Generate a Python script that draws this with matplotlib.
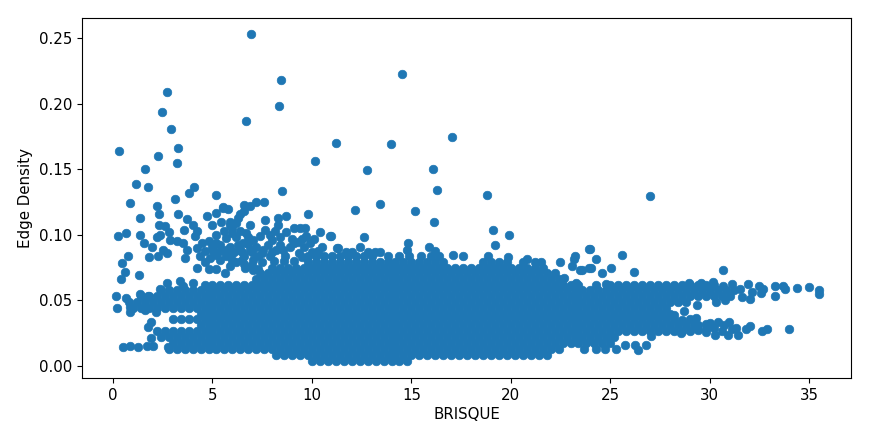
#!/usr/bin/env python3
"""BRISQUE vs edge density scatter, points read off the picture."""
import matplotlib

matplotlib.use("Agg")
import matplotlib.pyplot as plt

C_POINT = "#1f77b4"

# isolated points, read one by one
outlier_x = [6.93, 8.42, 14.55, 2.7, 2.48, 8.32, 6.7, 2.92, 3.25, 0.32, 3.22, 2.26, 1.63, 11.23, 10.13,
             13.96, 12.78, 16.07, 17.06, 16.27, 8.51, 1.16, 1.74, 4.07, 3.82, 3.12, 5.16, 0.84, 2.21,
             5.52, 6.57, 13.42, 18.82, 27.0, 12.14, 15.2, 16.14, 19.08, 19.9, 19.2, 30.66]
outlier_y = [.2527, .2178, .2225, .209, .1936, .198, .1865, .1805, .1662, .1635, .155, .1602, .1505, .17, .156,
             .1695, .1492, .1505, .1746, .1342, .1335, .1388, .1363, .1363, .1322, .1276, .1301, .1245, .1223,
             .1207, .1225, .1238, .1306, .1295, .1186, .1181, .1097, .1036, .0998, .0919, .0733]

# loose cloud above the main body, left side
cloud_x = [1.38, 2.29, 3.28, 3.7, .25, .64, 1.34, 1.55, 1.98, .77, .44, .6, .39, 1.31, 1.82, 2.27, 2.52, 2.72,
           2.29, 2.6, 2.35, 2.2, 2.82, 2.86, 3.56, 4.03, 4.2, 4.12, 3.2, 3.53, 3.7, 3.6, 4.2, 4.8, 5.2, 5.63,
           4.2, 4.45, 4.8, 5.2, 4.62, 5.2, 5.7, 6.2, 6.64, 7.06, 4.7, 5.2, 5.55, 5.8, 5.41, 5.0, 5.2,
           5.88, 6.2, 5.97, 5.7, 6.9, 7.2, 7.6, 6.4, 6.9, 6.7, 6.55, 7.06, 6.4, 6.9,
           7.65, 8.27, 8.7, 9.78, 8.3, 7.65, 8.15, 8.7, 9.08, 9.4, 9.66, 9.7, 10.39, 10.08, 10.92, 11.26, 10.29,
           8.0, 8.4, 9.08, 9.58, 7.56, 8.57, 9.33, 7.3, 7.9, 8.65, 9.75, 7.06, 4.37, 5.04, 5.7, 6.1, 6.6,
           4.6, 5.0, 5.4, 5.9, 6.3, 6.8, 7.2, 7.8, 8.2, 8.9, 9.3, 9.9, 10.5,
           4.9, 5.4, 6.0, 6.5, 7.5, 8.1, 8.6, 9.1, 9.5, 10.0,
           6.2, 6.0, 6.4, 6.8, 7.4, 7.9, 8.4, 9.0, 9.5, 5.6, 5.9, 6.3, 6.6,
           7.0, 6.6, 7.3, 5.9, 7.0, 7.5, 8.0, 5.4, 6.0, 6.5]
cloud_y = [.113, .1155, .116, .112, .099, .101, .0995, .094, .0906, .0835, .0784, .0718, .0664, .0697, .083, .0842, .0886, .086,
           .1076, .1064, .1, .098, .1018, .096, .1033, .1076, .1025, .0987, .095, .0936, .0886, .082, .0746, .0738, .0738, .0707,
           .09, .0936, .095, .0936, .0796, .0847, .0835, .0796, .0746, .0733, .114, .1165, .121, .1196, .11, .1076, .1,
           .1076, .109, .101, .0975, .1216, .1247, .1247, .116, .1076, .1013, .0936, .096, .0885, .0885,
           .111, .1127, .114, .1158, .1076, .1038, .1025, .1018, .105, .105, .105, .0987, .1018, .0967, .0987, .0903, .088,
           .0962, .0924, .0936, .091, .0885, .0885, .086, .0835, .0835, .0835, .082, .081, .0835, .0873, .0885, .087, .084,
           .088, .0905, .0925, .091, .092, .093, .091, .092, .0885, .0905, .0945, .0935, .091,
           .082, .081, .081, .081, .079, .08, .08, .08, .083, .087,
           .098, .105, .103, .098, .099, .1, .098, .097, .097, .103, .11, .113, .118,
           .077, .078, .074, .076, .087, .086, .087, .0875, .086, .087]

# top edge of the body and the points over it, middle
top_x = [10.97, 12.6, 11.33, 12.43, 14.83, 14.8, 15.9, 16.2, 17.1, 17.6, 18.83, 19.87, 20.8, 21.2, 21.5, 22.48,
         23.24, 23.15, 23.07, 23.49, 23.94, 23.94, 22.65, 23.3, 11.7, 12.0, 12.8, 13.15, 13.4,
         9.8, 10.2, 10.6, 11.0, 11.4, 11.8, 12.2, 12.6, 13.0, 13.8, 14.4, 14.9, 15.5, 16.0, 16.4,
         24.0, 25.57, 24.3, 23.6, 24.03, 24.58, 25.05, 26.2, 24.3, 24.8]
top_y = [.0987, .098, .09, .0906, .0941, .0885, .0906, .088, .0847, .0835, .084, .083, .0814, .0796, .0789, .0789,
         .084, .0814, .0763, .0728, .0893, .075, .067, .063, .0865, .0865, .0865, .0865, .0865,
         .084, .084, .084, .084, .084, .084, .084, .084, .084, .084, .084, .084, .084, .084, .084,
         .0893, .0847, .0814, .0733, .0748, .0712, .0748, .0717, .0618, .0626]

# left tail of the two bands
left_x = [.17, .22, .67, .84, .87, 1.34, 1.6, 1.76, 2.15, 2.35, 2.72, 3.36, 3.53, 4.03, 1.93, 1.76, 1.93,
          .5, .85, 1.25, 1.7, 2.0, 2.77]
left_y = [.053, .0445, .052, .045, .0415, .055, .043, .053, .041, .059, .0636, .0644, .061, .063, .0338, .0295, .0211,
          .0147, .0155, .0147, .0155, .0155, .0147]

# right tail of the two bands
right_x = [30.66, 31.1, 31.5, 31.9, 32.1, 32.5, 32.7, 32.6, 33.27, 33.3, 33.7, 33.8, 34.4, 35.0, 35.5, 35.5,
           32.0, 31.6, 30.75, 30.3, 29.37, 28.68, 28.95, 29.57, 30.16,
           34.0, 32.9, 32.65, 32.0, 31.8, 31.4, 31.3, 30.97, 30.9, 30.4, 30.24, 29.8, 29.8, 29.3, 29.4, 28.56, 28.2,
           27.05, 26.8, 26.4, 26.25, 25.75, 28.6, 29.0, 29.4, 29.8, 30.2, 30.6, 30.0, 30.7, 31.1]
right_y = [.061, .0623, .0585, .0626, .0567, .0606, .0585, .0555, .061, .0534, .0606, .0585, .0598, .06, .058, .0547,
           .0514, .0524, .0504, .0491, .0466, .0422, .063, .063, .0638,
           .0285, .028, .0265, .0303, .0282, .0237, .0288, .0333, .0237, .0333, .0237, .0257, .032, .0364, .0275, .025, .039,
           .023, .016, .0122, .016, .016, .035, .036, .031, .028, .029, .027, .033, .031, .028]

# the solid body, read row by row
row_levels = [.004, .0085, .013, .0175, .022, .0265, .031, .0355, .04, .0445, .049, .0535, .058, .0615, .066, .0705, .075, .0795]
row_004 = [10.0, 10.4, 10.8, 11.2, 11.6, 12.0, 12.4, 12.8, 13.2, 13.6, 14.0, 14.4, 14.8]
row_0085 = [8.2, 8.6, 9.0, 9.4, 9.8, 10.2, 10.6, 11.0, 11.4, 11.8, 12.2, 12.6, 13.0, 13.4, 13.8, 14.2, 14.6, 15.0, 15.4,
            15.8, 16.2, 16.6, 17.0, 17.4, 17.8, 18.2, 18.6, 19.0, 19.4, 19.8, 20.2, 20.6, 21.0, 21.4, 21.8]
row_013 = [2.8, 3.2, 3.6, 4.0, 4.4, 4.8, 5.2, 5.6, 6.0, 6.4, 6.8, 7.2, 7.6, 8.0, 8.4, 8.8, 9.2, 9.6, 10.0, 10.4, 10.8,
           11.2, 11.6, 12.0, 12.4, 12.8, 13.2, 13.6, 14.0, 14.4, 14.8, 15.2, 15.6, 16.0, 16.4, 16.8, 17.2, 17.6, 18.0,
           18.4, 18.8, 19.2, 19.6, 20.0, 20.4, 20.8, 21.2, 21.6, 22.0, 22.4, 23.7, 24.3, 24.75, 25.3]
row_0175 = [3.0, 3.4, 3.8, 4.2, 4.6, 5.0, 5.4, 5.8, 6.2, 6.6, 7.0, 7.4, 7.8, 8.2, 8.6, 9.0, 9.4, 9.8, 10.2, 10.6, 11.0,
            11.4, 11.8, 12.2, 12.6, 13.0, 13.4, 13.8, 14.2, 14.6, 15.0, 15.4, 15.8, 16.2, 16.6, 17.0, 17.4, 17.8, 18.2,
            18.6, 19.0, 19.4, 19.8, 20.2, 20.6, 21.0, 21.4, 21.8, 22.2, 22.6, 23.0, 23.4, 23.8, 24.2, 24.6, 25.0]
row_022 = [2.4, 2.8, 3.2, 3.6, 4.0, 4.4, 4.8, 5.2, 5.6, 6.0, 6.4, 6.8, 7.2, 7.6, 8.0, 8.4, 8.8, 9.2, 9.6, 10.0, 10.4,
           10.8, 11.2, 11.6, 12.0, 12.4, 12.8, 13.2, 13.6, 14.0, 14.4, 14.8, 15.2, 15.6, 16.0, 16.4, 16.8, 17.2, 17.6,
           18.0, 18.4, 18.8, 19.2, 19.6, 20.0, 20.4, 20.8, 21.2, 21.6, 22.0, 22.4, 22.8, 23.2, 23.6, 24.0, 24.4, 24.8, 25.2]
row_0265 = [2.2, 2.6, 3.0, 3.4, 3.8, 4.2, 4.6, 5.0, 5.4, 5.8, 6.2, 6.6, 7.0, 7.4, 7.8, 8.2, 8.6, 9.0, 9.4, 9.8, 10.2,
            10.6, 11.0, 11.4, 11.8, 12.2, 12.6, 13.0, 13.4, 13.8, 14.2, 14.6, 15.0, 15.4, 15.8, 16.2, 16.6, 17.0, 17.4,
            17.8, 18.2, 18.6, 19.0, 19.4, 19.8, 20.2, 20.6, 21.0, 21.4, 21.8, 22.2, 22.6, 23.0, 23.4, 23.8, 24.2, 24.6,
            25.0, 25.4, 25.8, 26.2, 26.6, 27.0, 27.4, 27.8, 28.2, 28.6, 29.0]
row_031 = [4.4, 4.8, 5.2, 5.6, 6.0, 6.4, 6.8, 7.2, 7.6, 8.0, 8.4, 8.8, 9.2, 9.6, 10.0, 10.4, 10.8, 11.2, 11.6, 12.0, 12.4,
           12.8, 13.2, 13.6, 14.0, 14.4, 14.8, 15.2, 15.6, 16.0, 16.4, 16.8, 17.2, 17.6, 18.0, 18.4, 18.8, 19.2, 19.6,
           20.0, 20.4, 20.8, 21.2, 21.6, 22.0, 22.4, 22.8, 23.2, 23.6, 24.0, 24.4, 24.8, 25.2, 25.6, 26.0, 26.4, 26.8,
           27.2, 27.6, 28.0, 28.4, 28.8, 29.2]
row_0355 = [3.0, 3.4, 3.8, 4.2, 4.6, 5.0, 5.4, 5.8, 6.2, 6.6, 7.0, 7.4, 7.8, 8.2, 8.6, 9.0, 9.4, 9.8, 10.2, 10.6, 11.0,
            11.4, 11.8, 12.2, 12.6, 13.0, 13.4, 13.8, 14.2, 14.6, 15.0, 15.4, 15.8, 16.2, 16.6, 17.0, 17.4, 17.8, 18.2,
            18.6, 19.0, 19.4, 19.8, 20.2, 20.6, 21.0, 21.4, 21.8, 22.2, 22.6, 23.0, 23.4, 23.8, 24.2, 24.6, 25.0, 25.4,
            25.8, 26.2, 26.6, 27.0, 27.4, 27.8, 28.2]
row_04 = [4.4, 4.8, 5.2, 5.6, 6.0, 6.4, 6.8, 7.2, 7.6, 8.0, 8.4, 8.8, 9.2, 9.6, 10.0, 10.4, 10.8, 11.2, 11.6, 12.0, 12.4,
          12.8, 13.2, 13.6, 14.0, 14.4, 14.8, 15.2, 15.6, 16.0, 16.4, 16.8, 17.2, 17.6, 18.0, 18.4, 18.8, 19.2, 19.6,
          20.0, 20.4, 20.8, 21.2, 21.6, 22.0, 22.4, 22.8, 23.2, 23.6, 24.0, 24.4, 24.8, 25.2, 25.6, 26.0, 26.4, 26.8, 27.2, 27.6, 28.0]
row_0445 = [1.0, 1.4, 1.8, 2.2, 2.6, 3.0, 3.4, 3.8, 4.2, 4.6, 5.0, 5.4, 5.8, 6.2, 6.6, 7.0, 7.4, 7.8, 8.2, 8.6, 9.0, 9.4,
            9.8, 10.2, 10.6, 11.0, 11.4, 11.8, 12.2, 12.6, 13.0, 13.4, 13.8, 14.2, 14.6, 15.0, 15.4, 15.8, 16.2, 16.6,
            17.0, 17.4, 17.8, 18.2, 18.6, 19.0, 19.4, 19.8, 20.2, 20.6, 21.0, 21.4, 21.8, 22.2, 22.6, 23.0, 23.4, 23.8,
            24.2, 24.6, 25.0, 25.4, 25.8, 26.2, 26.6, 27.0, 27.4, 27.8]
row_049 = [.8, 1.2, 1.6, 2.0, 2.4, 2.8, 3.2, 3.6, 4.0, 4.4, 4.8, 5.2, 5.6, 6.0, 6.4, 6.8, 7.2, 7.6, 8.0, 8.4, 8.8, 9.2, 9.6,
           10.0, 10.4, 10.8, 11.2, 11.6, 12.0, 12.4, 12.8, 13.2, 13.6, 14.0, 14.4, 14.8, 15.2, 15.6, 16.0, 16.4, 16.8,
           17.2, 17.6, 18.0, 18.4, 18.8, 19.2, 19.6, 20.0, 20.4, 20.8, 21.2, 21.6, 22.0, 22.4, 22.8, 23.2, 23.6, 24.0,
           24.4, 24.8, 25.2, 25.6, 26.0, 26.4, 26.8, 27.2, 27.6, 28.0, 28.4, 28.8]
row_0535 = [1.4, 1.8, 2.2, 2.6, 3.0, 3.4, 3.8, 4.2, 4.6, 5.0, 5.4, 5.8, 6.2, 6.6, 7.0, 7.4, 7.8, 8.2, 8.6, 9.0, 9.4, 9.8,
            10.2, 10.6, 11.0, 11.4, 11.8, 12.2, 12.6, 13.0, 13.4, 13.8, 14.2, 14.6, 15.0, 15.4, 15.8, 16.2, 16.6, 17.0,
            17.4, 17.8, 18.2, 18.6, 19.0, 19.4, 19.8, 20.2, 20.6, 21.0, 21.4, 21.8, 22.2, 22.6, 23.0, 23.4, 23.8, 24.2,
            24.6, 25.0, 25.4, 25.8, 26.2, 26.6, 27.0, 27.4, 27.8, 28.2, 28.6, 29.0, 29.4, 29.8, 30.2, 30.6, 31.0]
row_058 = [2.4, 2.8, 3.2, 3.6, 4.0, 4.4, 4.8, 5.2, 5.6, 6.0, 6.4, 6.8, 7.2, 7.6, 8.0, 8.4, 8.8, 9.2, 9.6, 10.0, 10.4, 10.8,
           11.2, 11.6, 12.0, 12.4, 12.8, 13.2, 13.6, 14.0, 14.4, 14.8, 15.2, 15.6, 16.0, 16.4, 16.8, 17.2, 17.6, 18.0,
           18.4, 18.8, 19.2, 19.6, 20.0, 20.4, 20.8, 21.2, 21.6, 22.0, 22.4, 22.8, 23.2, 23.6, 24.0, 24.4, 24.8, 25.2,
           25.6, 26.0, 26.4, 26.8, 27.2, 27.6, 28.0, 28.4, 28.8, 29.2, 29.6, 30.0, 30.4, 30.8, 31.2]
row_0615 = [4.6, 5.0, 5.4, 5.8, 6.2, 6.6, 7.0, 7.4, 7.8, 8.2, 8.6, 9.0, 9.4, 9.8, 10.2, 10.6, 11.0, 11.4, 11.8, 12.2, 12.6,
            13.0, 13.4, 13.8, 14.2, 14.6, 15.0, 15.4, 15.8, 16.2, 16.6, 17.0, 17.4, 17.8, 18.2, 18.6, 19.0, 19.4, 19.8,
            20.2, 20.6, 21.0, 21.4, 21.8, 22.2, 22.6, 23.0, 23.4, 25.0, 25.4, 25.8, 26.2, 26.6, 27.0, 27.4, 27.8, 28.2,
            28.6, 29.0, 29.4, 29.8, 30.2]
row_066 = [7.2, 7.6, 8.0, 8.4, 8.8, 9.2, 9.6, 10.0, 10.4, 10.8, 11.2, 11.6, 12.0, 12.4, 12.8, 13.2, 13.6, 14.0, 14.4, 14.8,
           15.2, 15.6, 16.0, 16.4, 16.8, 17.2, 17.6, 18.0, 18.4, 18.8, 19.2, 19.6, 20.0, 20.4, 20.8, 21.2, 21.6, 22.0, 22.4]
row_0705 = [7.4, 7.8, 8.2, 8.6, 9.0, 9.4, 9.8, 10.2, 10.6, 11.0, 11.4, 11.8, 12.2, 12.6, 13.0, 13.4, 13.8, 14.2, 14.6, 15.0,
            15.4, 15.8, 16.2, 16.6, 17.0, 17.4, 17.8, 18.2, 18.6, 19.0, 19.4, 19.8, 20.2, 20.6, 21.0, 21.4, 21.8, 22.2]
row_075 = [8.0, 8.4, 8.8, 9.2, 9.6, 10.0, 10.4, 10.8, 11.2, 11.6, 12.0, 12.4, 12.8, 13.2, 13.6, 14.0, 14.4, 14.8, 15.2, 15.6,
           16.0, 16.4, 16.8, 17.2, 17.6, 18.0, 18.4, 18.8, 19.2, 19.6, 20.0, 20.4, 20.8, 21.2, 21.6]
row_0795 = [9.8, 10.2, 10.6, 11.0, 11.4, 11.8, 12.2, 12.6, 13.0, 13.4, 13.8, 14.2, 14.6, 15.0, 15.4, 15.8, 16.2, 16.6,
            18.6, 19.0, 19.4, 19.8, 20.6]
row_values = [row_004, row_0085, row_013, row_0175, row_022, row_0265, row_031, row_0355, row_04, row_0445, row_049,
              row_0535, row_058, row_0615, row_066, row_0705, row_075, row_0795]

fig = plt.figure(figsize=(8.9, 4.4), dpi=100)
ax = fig.add_axes([82 / 890, 1 - 378 / 440, 769 / 890, 360 / 440])

for xs, ys in [(outlier_x, outlier_y), (cloud_x, cloud_y), (top_x, top_y), (left_x, left_y), (right_x, right_y)]:
    ax.scatter(xs, ys, s=38, color=C_POINT, linewidths=0.5)
for level, xs in zip(row_levels, row_values):
    ax.scatter(xs, [level] * len(xs), s=38, color=C_POINT, linewidths=0.5)

ax.set_xlim(-1.56, 37.1)
ax.set_ylim(-0.00915, 0.2652)
ax.set_xticks([0, 5, 10, 15, 20, 25, 30, 35])
ax.set_yticks([0, 0.05, 0.10, 0.15, 0.20, 0.25])
ax.set_yticklabels(["0.00", "0.05", "0.10", "0.15", "0.20", "0.25"])
ax.tick_params(labelsize=10.8)
ax.set_xlabel("BRISQUE", fontsize=10.8, labelpad=3)
ax.set_ylabel("Edge Density", fontsize=10.8)

fig.savefig("out.png", dpi=100)
